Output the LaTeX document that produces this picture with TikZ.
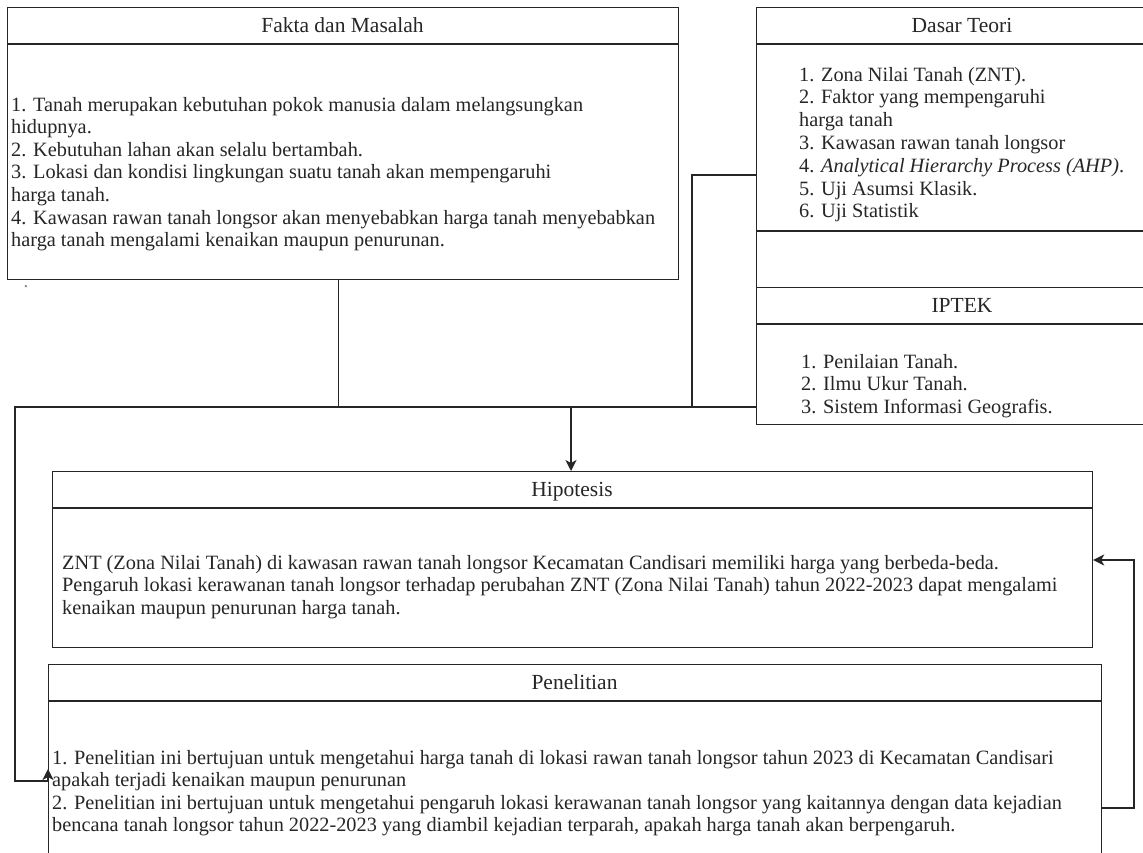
\documentclass[tikz,border=0pt]{standalone}
\usepackage{fontspec}
\setmainfont{Liberation Serif}
\usetikzlibrary{arrows.meta}
\begin{document}
\begin{tikzpicture}[x=1pt,y=-1pt,
  box/.style={draw=black!85, line width=1.2pt, anchor=north west, inner sep=0pt},
  hline/.style={draw=black!85, line width=1.2pt},
  ttl/.style={font=\fontsize{21.5}{22}\selectfont, anchor=base, inner sep=0pt, text=black!85},
  body/.style={font=\fontsize{20.3}{22.6}\selectfont, align=left, anchor=north west, inner sep=0pt, text=black!85},
  conn/.style={draw=black!85, line width=1.2pt},
  arr/.style={conn, -{Stealth[length=11pt,width=11pt,inset=3pt]}}]
\useasboundingbox (0,0) rectangle (1143,852);
\clip (0,0) rectangle (1143,852);
\fill[white] (0,0) rectangle (1143,852);

% ---- Fakta dan Masalah
\node[box, minimum width=671pt, minimum height=272pt] (fakta) at (7,7) {};
\draw[hline] (7,44) -- (678,44);
\node[ttl] (faktaT) at (342.5,32.5) {Fakta dan Masalah};
\node[body] (faktaB) at (11,95) {\strut 1. Tanah merupakan kebutuhan pokok manusia dalam melangsungkan\\
hidupnya.\\
2. Kebutuhan lahan akan selalu bertambah.\\
3. Lokasi dan kondisi lingkungan suatu tanah akan mempengaruhi\\
harga tanah.\\
4. Kawasan rawan tanah longsor akan menyebabkan harga tanah menyebabkan\\
harga tanah mengalami kenaikan maupun penurunan.};
\node[font=\fontsize{19}{22}\selectfont, text=gray, inner sep=0pt] (dot) at (26,287) {.};

% ---- Dasar Teori
\node[box, minimum width=412pt, minimum height=280pt] (dasar) at (756,7) {};
\draw[hline] (756,44) -- (1168,44);
\draw[hline] (756,231) -- (1168,231);
\node[ttl] (dasarT) at (962,32.5) {Dasar Teori};
\node[body, font=\fontsize{20.3}{22.8}\selectfont] (dasarB) at (799,65) {\strut 1. Zona Nilai Tanah (ZNT).\\
2. Faktor yang mempengaruhi\\
harga tanah\\
3. Kawasan rawan tanah longsor\\
4. \textit{Analytical Hierarchy Process (AHP)}.\\
5. Uji Asumsi Klasik.\\
6. Uji Statistik};

% ---- IPTEK
\node[box, minimum width=412pt, minimum height=137pt] (iptek) at (756,287) {};
\draw[hline] (756,324) -- (1168,324);
\node[ttl] (iptekT) at (962,312.5) {IPTEK};
\node[body] (iptekB) at (801,352) {\strut 1. Penilaian Tanah.\\
2. Ilmu Ukur Tanah.\\
3. Sistem Informasi Geografis.};

% ---- Hipotesis
\node[box, minimum width=1040pt, minimum height=176pt] (hip) at (52,471) {};
\draw[hline] (52,508) -- (1092,508);
\node[ttl] (hipT) at (572,496.5) {Hipotesis};
\node[body] (hipB) at (62,553) {\strut ZNT (Zona Nilai Tanah) di kawasan rawan tanah longsor Kecamatan Candisari memiliki harga yang berbeda-beda.\\
Pengaruh lokasi kerawanan tanah longsor terhadap perubahan ZNT (Zona Nilai Tanah) tahun 2022-2023 dapat mengalami\\
kenaikan maupun penurunan harga tanah.};

% ---- Penelitian
\node[box, minimum width=1053pt, minimum height=240pt] (pen) at (48,664) {};
\draw[hline] (48,701) -- (1101,701);
\node[ttl] (penT) at (574.5,689.5) {Penelitian};
\node[body] (penB) at (52,748) {\strut 1. Penelitian ini bertujuan untuk mengetahui harga tanah di lokasi rawan tanah longsor tahun 2023 di Kecamatan Candisari\\
apakah terjadi kenaikan maupun penurunan\\
2. Penelitian ini bertujuan untuk mengetahui pengaruh lokasi kerawanan tanah longsor yang kaitannya dengan data kejadian\\
bencana tanah longsor tahun 2022-2023 yang diambil kejadian terparah, apakah harga tanah akan berpengaruh.};

% ---- connectors
\coordinate (busL) at (15,407);
\coordinate (busM) at (571,407);
\coordinate (dJ) at (692,175);
\coordinate (pJ) at (1134,808);
\draw[conn] ([xshift=-4.5pt]fakta.south) -- ([xshift=-4.5pt]fakta.south |- busL);
\draw[conn] (dasar.west |- dJ) -- (dJ) -- (dJ |- busL);
\draw[conn] (iptek.west |- busL) -- (busL) -- (15,781) -- (pen.west |- 0,781);
\draw[arr] (pen.west |- 0,782) -- (pen.west |- 0,769);
\draw[arr] (busM) -- (busM |- hip.north);
\draw[arr] (pen.east |- pJ) -- (pJ) -- (1134,560) -- (hip.east |- 0,560);
\end{tikzpicture}
\end{document}
